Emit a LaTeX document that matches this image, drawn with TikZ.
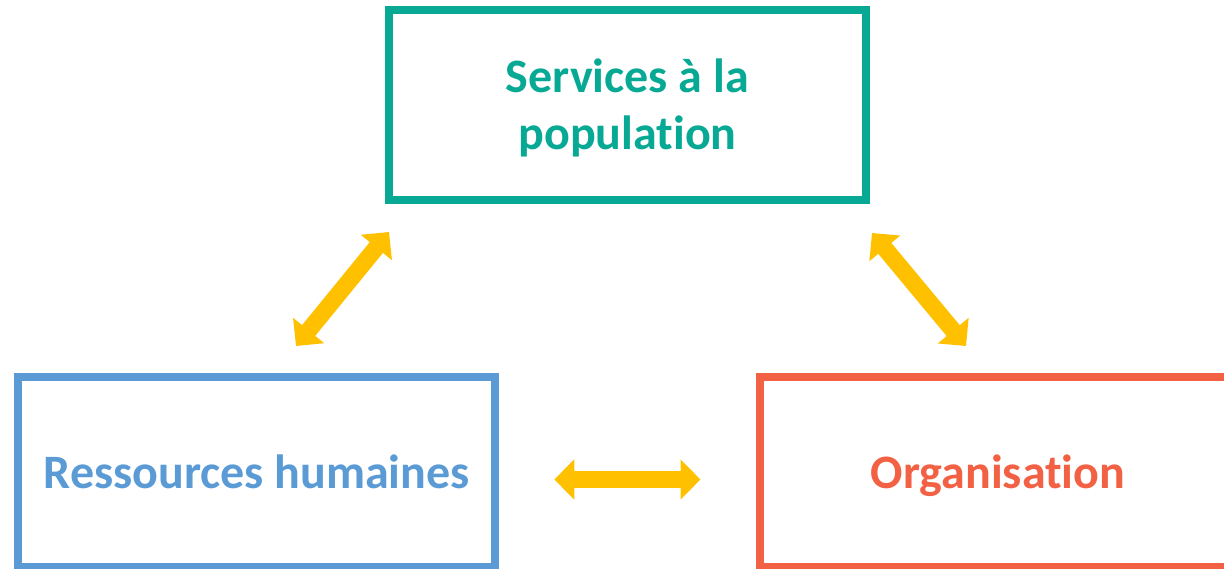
\documentclass[tikz,border=0pt]{standalone}
\usepackage{fontspec}
\setmainfont{Carlito}[Ligatures={NoCommon,NoContextual}]
\usepackage{tikz}
\usetikzlibrary{arrows.meta}
\definecolor{tealbox}{HTML}{07A995}
\definecolor{bluebox}{HTML}{5B9BD5}
\definecolor{redbox}{HTML}{F26143}
\definecolor{arrowyellow}{HTML}{FFC000}

\begin{document}
\begin{tikzpicture}[x=1pt, y=-1pt, node distance={741.25pt},
    box/.style = {draw, line width=8pt, minimum width=477pt, minimum height=190pt, align=center, font=\fontsize{48}{57}\selectfont\bfseries},
    oneline/.style = {text height=33pt, text depth=0pt},
    biarrow/.style = {draw=arrowyellow, line width=17pt, {Triangle[width=39pt,length=20pt]}-{Triangle[width=39pt,length=20pt]}}]
                    \useasboundingbox (0,0) rectangle (1224,569);
                    \clip (0,0) rectangle (1224,569);
                    \node[box, draw=tealbox, text=tealbox] (srv) at (627.5,105.5) {\rule{0pt}{44pt}Services à la\\population\rule[-12pt]{0pt}{12pt}};
                    \node[box, oneline, draw=bluebox, text=bluebox] (rh) at (256.75,472) {Ressources humaines};
                    \node[box, oneline, draw=redbox, text=redbox] (org) [right of=rh] {Organisation};
                    \coordinate (rhup) at (296,346);
                    \coordinate (srvleft) at (389,232);
                    \coordinate (srvright) at (872,233);
                    \coordinate (orgup) at (966,346);
                    \draw[biarrow] (rhup) -- (srvleft);
                    \draw[biarrow] (srvright) -- (orgup);
                    \draw[biarrow, shorten <=55pt, shorten >=55pt] ([yshift=-7.5pt]rh.east) -- ([yshift=-7.5pt]org.west);
                \end{tikzpicture}
\end{document}
